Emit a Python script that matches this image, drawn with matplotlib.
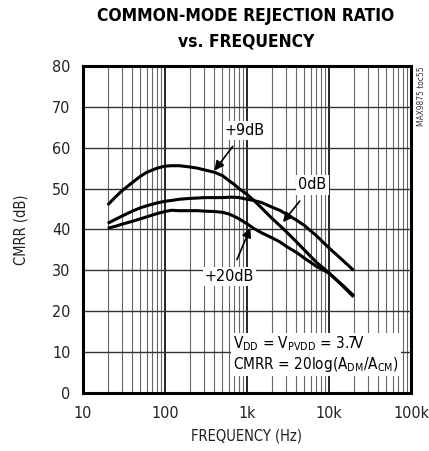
import numpy as np
import matplotlib
matplotlib.use("Agg")
import matplotlib.pyplot as plt

plt.rcParams['font.family'] = ['DejaVu Sans']
plt.rcParams['font.stretch'] = 'condensed'
plt.rcParams['mathtext.fontset'] = 'custom'
plt.rcParams['mathtext.rm'] = 'DejaVu Sans:stretch=condensed'

# ---- data ----
freq = [20, 25, 30, 40, 50, 60, 80, 100, 120, 150, 200, 250, 300, 400, 500,
        600, 700, 800, 1000, 1200, 1500, 2000, 2500, 3000, 4000, 5000, 7000,
        10000, 15000, 20000]
cmrr_9db = [46.0, 48.0, 49.5, 51.5, 53.0, 54.0, 55.0, 55.5, 55.6, 55.6, 55.3,
            55.0, 54.6, 54.0, 53.2, 52.0, 51.0, 50.0, 48.6, 47.2, 45.3, 42.8,
            41.0, 39.5, 37.0, 35.0, 32.0, 29.4, 26.0, 23.5]
cmrr_0db = [41.5, 42.5, 43.3, 44.5, 45.3, 45.8, 46.5, 46.9, 47.1, 47.4, 47.6,
            47.7, 47.8, 47.8, 47.8, 47.9, 47.9, 47.8, 47.4, 47.1, 46.6, 45.5,
            44.7, 43.8, 42.3, 41.0, 38.5, 35.5, 32.3, 30.0]
cmrr_20db = [40.3, 40.8, 41.3, 42.0, 42.6, 43.1, 43.9, 44.4, 44.7, 44.6, 44.6,
             44.6, 44.5, 44.4, 44.2, 43.8, 43.2, 42.6, 41.4, 40.3, 39.2, 38.0,
             37.0, 35.9, 34.4, 33.0, 31.0, 29.3, 26.2, 23.8]

xticks = [10, 100, 1000, 10000, 100000]
xticklabels = ['10', '100', '1k', '10k', '100k']
yticks = list(range(0, 81, 10))

fig = plt.figure(figsize=(4.29, 4.51), dpi=100)
ax = fig.add_axes([0.1935, 0.1286, 0.7645, 0.7251])

# grid
for dec in [10, 100, 1000, 10000]:
    for m in range(2, 10):
        ax.axvline(dec * m, color='#666666', lw=0.8, zorder=1)
    if dec > 10:
        ax.axvline(dec, color='black', lw=1.2, zorder=1)
for y in yticks[1:-1]:
    ax.axhline(y, color='#333333', lw=1.0, zorder=1)

for vals in (cmrr_9db, cmrr_0db, cmrr_20db):
    ax.plot(freq, vals, color='black', lw=2.2, zorder=3,
            solid_capstyle='butt', solid_joinstyle='round')

ax.set_xscale('log')
ax.set_xlim(10, 100000)
ax.set_ylim(0, 80)
ax.set_xticks(xticks)
ax.set_xticklabels(xticklabels)
ax.set_yticks(yticks)
ax.minorticks_off()
ax.tick_params(length=0, labelsize=11.5, pad=9, labelcolor='#222222')
for s in ax.spines.values():
    s.set_linewidth(2.2)
    s.set_zorder(5)

ax.set_xlabel('FREQUENCY (Hz)', fontsize=10.5, labelpad=6, color='#222222')
ax.set_ylabel('CMRR (dB)', fontsize=10.5, labelpad=17, color='#222222')

box = dict(facecolor='white', edgecolor='none', pad=1.5)
arrow = dict(arrowstyle='-|>', color='black', lw=1.2, mutation_scale=14,
             shrinkA=6, shrinkB=0)
ax.annotate('+9dB', xy=(400, 54.4), xytext=(946, 64.3), fontsize=11.5,
            ha='center', va='center', bbox=box, arrowprops=arrow, zorder=4)
ax.annotate('0dB', xy=(2750, 41.8), xytext=(6300, 50.9), fontsize=11.5,
            ha='center', va='center', bbox=box, arrowprops=arrow, zorder=4)
ax.annotate('+20dB', xy=(1100, 40.4), xytext=(615, 28.4), fontsize=11.5,
            ha='center', va='center', bbox=box, arrowprops=arrow, zorder=4)

ax.text(680, 9.5, 'V$_{\\rm DD}$ = V$_{\\rm PVDD}$ = 3.7V\nCMRR = 20log(A$_{\\rm DM}$/A$_{\\rm CM}$)',
        fontsize=11, ha='left', va='center', linespacing=1.1,
        bbox=dict(facecolor='white', edgecolor='none', pad=1.5), zorder=4)

fig.text(0.5734, 0.9645, 'COMMON-MODE REJECTION RATIO', fontsize=12.5,
         fontweight='bold', ha='center', va='center')
fig.text(0.5734, 0.909, 'vs. FREQUENCY', fontsize=12.5,
         fontweight='bold', ha='center', va='center')
fig.text(0.982, 0.853, 'MAX9875 toc55', fontsize=6, rotation=90,
         ha='center', va='top', color='#333333')

fig.savefig('out.png', dpi=100)
